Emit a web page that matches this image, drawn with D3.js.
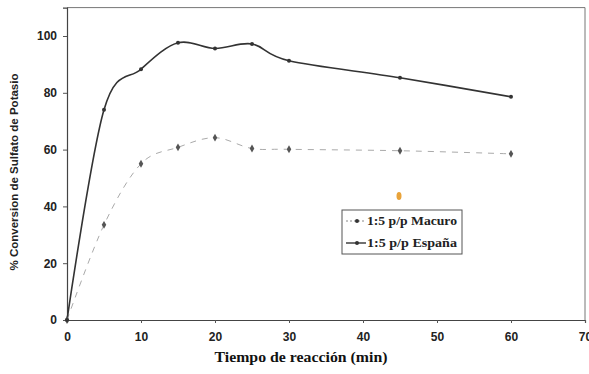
<!DOCTYPE html>
<html>
<head>
<meta charset="utf-8">
<script src="https://cdn.jsdelivr.net/npm/d3@7"></script>
<style>
  body { margin: 0; background: #fff; }
  svg { display: block; }
</style>
</head>
<body>
<svg id="chart" width="589" height="374"></svg>
<script>
const minutes = [0, 5, 10, 15, 20, 25, 30, 45, 60];
const macuro = [0, 33.5, 55, 60.8, 64.2, 60.4, 60.1, 59.6, 58.5];
const espana = [0, 74, 88.3, 97.6, 95.6, 97.2, 91.3, 85.3, 78.6];
const seriesNames = ['1:5 p/p Macuro', '1:5 p/p España'];
const xTicks = [0, 10, 20, 30, 40, 50, 60, 70];
const yTicks = [0, 20, 40, 60, 80, 100];

const svg = d3.select('#chart');
const x = d3.scaleLinear().domain([0, 70]).range([67, 585]);
const y = d3.scaleLinear().domain([0, 110]).range([320, 7.6]);

// frame (top + right)
svg.append('path')
  .attr('d', `M${x(0)},${y(110)}H${x(70)}V${y(0)}`)
  .attr('fill', 'none').attr('stroke', '#777').attr('stroke-width', 1);

const yAxis = svg.append('g').attr('transform', `translate(${x(0)},0)`)
  .call(d3.axisLeft(y).tickValues(yTicks).tickSize(4).tickPadding(6));
const xAxis = svg.append('g').attr('transform', `translate(0,${y(0)})`)
  .call(d3.axisBottom(x).tickValues(xTicks).tickSize(3).tickPadding(9));

[yAxis, xAxis].forEach(g => {
  g.select('.domain').attr('stroke', '#444').attr('stroke-width', 1.2);
  g.selectAll('.tick line').attr('stroke', '#555');
  g.selectAll('text').attr('font-family', 'Liberation Sans, Arial, sans-serif')
    .attr('font-weight', 'bold').attr('font-size', 12).attr('fill', '#222');
});

const line = d3.line()
  .x((d, i) => x(minutes[i]))
  .y(d => y(d))
  .curve(d3.curveCardinal.tension(0));

svg.append('path').datum(macuro)
  .attr('d', line).attr('fill', 'none')
  .attr('stroke', '#aaa').attr('stroke-width', 1)
  .attr('stroke-dasharray', '6,6');

svg.append('path').datum(espana)
  .attr('d', line).attr('fill', 'none')
  .attr('stroke', '#333').attr('stroke-width', 1.6);

svg.append('g').selectAll('path').data(macuro).join('path')
  .attr('transform', (d, i) => `translate(${x(minutes[i])},${y(d)})`)
  .attr('d', d3.symbol(d3.symbolDiamond, 18)).attr('fill', '#555');

svg.append('g').selectAll('circle').data(espana).join('circle')
  .attr('cx', (d, i) => x(minutes[i])).attr('cy', d => y(d))
  .attr('r', 2).attr('fill', '#333');

// scan speck
svg.append('ellipse').attr('cx', 399).attr('cy', 196).attr('rx', 2.5).attr('ry', 4)
  .attr('fill', '#e9a33a');

// legend
const lg = svg.append('g').attr('transform', 'translate(342,210)');
lg.append('rect').attr('width', 120).attr('height', 44)
  .attr('fill', '#fff').attr('stroke', '#555').attr('stroke-width', 1);
seriesNames.forEach((name, i) => {
  const ly = 11 + i * 22;
  lg.append('line').attr('x1', 4).attr('x2', 24).attr('y1', ly).attr('y2', ly)
    .attr('stroke', i ? '#333' : '#888').attr('stroke-width', i ? 1.4 : 1)
    .attr('stroke-dasharray', i ? null : '2,2');
  lg.append('circle').attr('cx', 15).attr('cy', ly).attr('r', 2).attr('fill', '#333');
  lg.append('text').attr('x', 25).attr('y', ly + 4).text(name)
    .attr('textLength', 90).attr('lengthAdjust', 'spacingAndGlyphs')
    .attr('font-family', 'Liberation Serif, Times New Roman, serif')
    .attr('font-weight', 'bold').attr('font-size', 12.5).attr('fill', '#222');
});

svg.append('text').attr('x', 301).attr('y', 362).attr('text-anchor', 'middle')
  .text('Tiempo de reacción (min)')
  .attr('textLength', 173).attr('lengthAdjust', 'spacingAndGlyphs')
  .attr('font-family', 'Liberation Serif, Times New Roman, serif')
  .attr('font-weight', 'bold').attr('font-size', 14).attr('fill', '#111');

svg.append('text').attr('transform', 'translate(18,172) rotate(-90)')
  .attr('text-anchor', 'middle')
  .text('% Conversion de Sulfato de Potasio')
  .attr('textLength', 197).attr('lengthAdjust', 'spacingAndGlyphs')
  .attr('font-family', 'Liberation Sans, Arial, sans-serif')
  .attr('font-weight', 'bold').attr('font-size', 10).attr('fill', '#222');
</script>
</body>
</html>
